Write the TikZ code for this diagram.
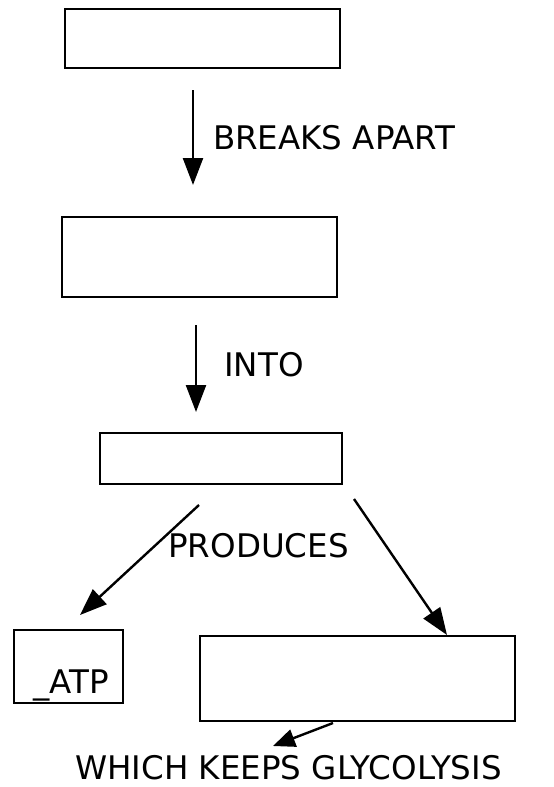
\documentclass[tikz,border=0pt]{standalone}
\usepackage{fontspec}
\setmainfont{DejaVu Sans}
\usetikzlibrary{arrows.meta}
\begin{document}
\begin{tikzpicture}[x=1pt,y=-1pt,
  box/.style={draw,line width=2.4pt,inner sep=0pt,minimum width=#1},
  lbl/.style={inner sep=0pt,anchor=base,font=\fontsize{32.5}{38}\selectfont},
  arr/.style={line width=2.4pt,-{Triangle[length=27pt,width=20pt]}}]
\useasboundingbox (0,0) rectangle (554,787);
\node[box=275pt,minimum height=59pt] (b1) at (202.5,38.5) {};
\node[box=275pt,minimum height=80pt] (b2) at (199.5,257) {};
\node[box=242pt,minimum height=51pt] (b3) at (221,458.5) {};
\node[box=109pt,minimum height=73pt] (b4) at (68.5,666.5) {};
\node[box=315pt,minimum height=85pt] (b5) at (357.5,678.5) {};
\node[lbl] (t4) at (71,693) {\_ATP};
\node[lbl] (l1) at (334,149) {BREAKS APART};
\node[lbl] (l2) at (264,376) {INTO};
\node[lbl] (l3) at (258.5,557) {PRODUCES};
\node[lbl] (l5) at (288.5,779) {WHICH KEEPS GLYCOLYSIS};
\coordinate (a1s) at (193,90);
\coordinate (a1e) at (193,185);
\coordinate (a2s) at (196,325);
\coordinate (a2e) at (196,412);
\coordinate (a3s) at (199,505);
\coordinate (a3e) at (80,615);
\coordinate (a4s) at (354,499);
\coordinate (a4e) at (447,635);
\coordinate (a5s) at (333,723);
\coordinate (a5e) at (273,746);
\draw[arr] (a1s) -- (a1e);
\draw[arr] (a2s) -- (a2e);
\draw[arr] (a3s) -- (a3e);
\draw[arr] (a4s) -- (a4e);
\draw[arr,-{Triangle[length=22pt,width=18pt]}] (a5s) -- (a5e);
\end{tikzpicture}
\end{document}
